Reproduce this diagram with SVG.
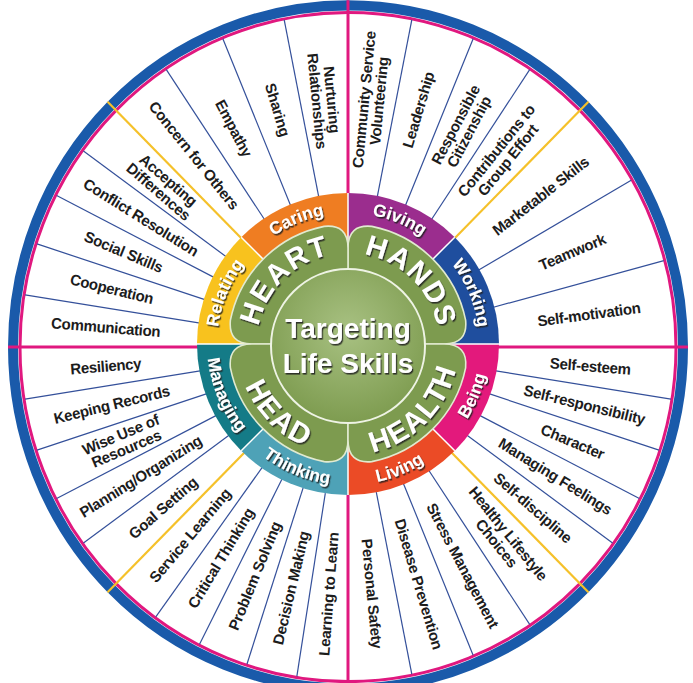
<svg xmlns="http://www.w3.org/2000/svg" width="693" height="683" viewBox="0 0 693 683">
<defs>
<style>
.sk{font-family:"Liberation Sans",Arial,sans-serif;font-weight:bold;font-size:15px;letter-spacing:-0.3px;fill:#1c1c1c;text-anchor:middle}
.cat{font-family:"Liberation Sans",Arial,sans-serif;font-weight:bold;font-size:17.5px;fill:#fff;filter:url(#sh)}
.big{font-family:"Liberation Sans",Arial,sans-serif;font-weight:bold;font-size:29px;letter-spacing:1.5px;fill:#fff;filter:url(#sh)}
.ctr{font-family:"Liberation Sans",Arial,sans-serif;font-weight:bold;font-size:28px;fill:#fff;text-anchor:middle;filter:url(#sh)}
.bl{stroke:#34509A;stroke-width:1.2}
.yl{stroke:#F5C12A;stroke-width:2.2}
.pk{stroke:#E0187F;stroke-width:3}
.sep{stroke:#fff;stroke-width:1.5}
.petal{fill:#7D9B4F;stroke:#E1EAD0;stroke-width:1.6}
</style>
<filter id="sh" x="-20%" y="-30%" width="140%" height="160%">
<feDropShadow dx="1.2" dy="1.6" stdDeviation="0.7" flood-color="#1a1a1a" flood-opacity="0.85"/>
</filter>
<radialGradient id="cg" cx="50%" cy="40%" r="60%">
<stop offset="0" stop-color="#A8C182"/>
<stop offset="1" stop-color="#7E9C50"/>
</radialGradient>
<path id="petal" d="M0 0 L0 -96 Q0 -120 23.84 -117.61 A120 120 0 0 1 117.61 -23.84 Q120 0 96 0 Z"/>
<path id="pCaring" d="M-92.63 -92.63 A131 131 0 0 1 0 -131"/>
<path id="pRelating" d="M-131 0 A131 131 0 0 1 -92.63 -92.63"/>
<path id="pGiving" d="M0 -131 A131 131 0 0 1 92.63 -92.63"/>
<path id="pWorking" d="M92.63 -92.63 A131 131 0 0 1 131 0"/>
<path id="pManaging" d="M-141 0 A141 141 0 0 0 -99.7 99.7"/>
<path id="pThinking" d="M-99.7 99.7 A141 141 0 0 0 0 141"/>
<path id="pLiving" d="M0 141 A141 141 0 0 0 99.7 99.7"/>
<path id="pBeing" d="M99.7 99.7 A141 141 0 0 0 141 0"/>
<path id="pHeart" d="M-91 0 A91 91 0 0 1 0 -91"/>
<path id="pHands" d="M0 -91 A91 91 0 0 1 91 0"/>
<path id="pHead" d="M-111 0 A111 111 0 0 0 0 111"/>
<path id="pHealth" d="M0 111 A111 111 0 0 0 111 0"/>
</defs>
<rect width="693" height="683" fill="#fff"/>

<g id="outer-ring" transform="translate(348,347) scale(1,1.02)">
<circle r="328" fill="none" stroke="#E0187F" stroke-width="3"/>
<circle r="335" fill="none" stroke="#1A5AAA" stroke-width="10"/>
</g>

<g id="connectors" transform="translate(348,347) scale(1,1.02)">
<g class="bl">
<line x1="145" y1="0" x2="327" y2="0" transform="rotate(-101.25)"/>
<line x1="145" y1="0" x2="327" y2="0" transform="rotate(-112.5)"/>
<line x1="145" y1="0" x2="327" y2="0" transform="rotate(-123.75)"/>
<line x1="145" y1="0" x2="327" y2="0" transform="rotate(-144)"/>
<line x1="145" y1="0" x2="327" y2="0" transform="rotate(-153)"/>
<line x1="145" y1="0" x2="327" y2="0" transform="rotate(-162)"/>
<line x1="145" y1="0" x2="327" y2="0" transform="rotate(-171)"/>
<line x1="145" y1="0" x2="327" y2="0" transform="rotate(-189)"/>
<line x1="145" y1="0" x2="327" y2="0" transform="rotate(-198)"/>
<line x1="145" y1="0" x2="327" y2="0" transform="rotate(-207)"/>
<line x1="145" y1="0" x2="327" y2="0" transform="rotate(-216)"/>
<line x1="145" y1="0" x2="327" y2="0" transform="rotate(-234)"/>
<line x1="145" y1="0" x2="327" y2="0" transform="rotate(-243)"/>
<line x1="145" y1="0" x2="327" y2="0" transform="rotate(-252)"/>
<line x1="145" y1="0" x2="327" y2="0" transform="rotate(-261)"/>
<line x1="145" y1="0" x2="327" y2="0" transform="rotate(-281.25)"/>
<line x1="145" y1="0" x2="327" y2="0" transform="rotate(-292.5)"/>
<line x1="145" y1="0" x2="327" y2="0" transform="rotate(-303.75)"/>
<line x1="145" y1="0" x2="327" y2="0" transform="rotate(-324)"/>
<line x1="145" y1="0" x2="327" y2="0" transform="rotate(-333)"/>
<line x1="145" y1="0" x2="327" y2="0" transform="rotate(-342)"/>
<line x1="145" y1="0" x2="327" y2="0" transform="rotate(-351)"/>
<line x1="145" y1="0" x2="327" y2="0" transform="rotate(-15)"/>
<line x1="145" y1="0" x2="327" y2="0" transform="rotate(-30)"/>
<line x1="145" y1="0" x2="327" y2="0" transform="rotate(-56.25)"/>
<line x1="145" y1="0" x2="327" y2="0" transform="rotate(-67.5)"/>
<line x1="145" y1="0" x2="327" y2="0" transform="rotate(-78.75)"/>
</g>
<g class="yl">
<line x1="145" y1="0" x2="340" y2="0" transform="rotate(-45)"/>
<line x1="145" y1="0" x2="340" y2="0" transform="rotate(-135)"/>
<line x1="145" y1="0" x2="340" y2="0" transform="rotate(-225)"/>
<line x1="145" y1="0" x2="340" y2="0" transform="rotate(-315)"/>
</g>
<g class="pk">
<line x1="145" y1="0" x2="340" y2="0"/>
<line x1="145" y1="0" x2="340" y2="0" transform="rotate(-90)"/>
<line x1="145" y1="0" x2="340" y2="0" transform="rotate(180)"/>
<line x1="145" y1="0" x2="340" y2="0" transform="rotate(90)"/>
</g>
</g>

<g id="skills" transform="translate(348,347) scale(1,1.02)">
<g id="s-nurturing" transform="rotate(84.4) translate(-243,0)"><text class="sk"><tspan x="0" y="-2.5">Nurturing</tspan><tspan x="0" y="12.5">Relationships</tspan></text></g>
<g id="s-sharing" transform="rotate(73.1) translate(-243,0)"><text class="sk" y="5">Sharing</text></g>
<g id="s-empathy" transform="rotate(61.9) translate(-243,0)"><text class="sk" y="5">Empathy</text></g>
<g id="s-concern" transform="rotate(50.6) translate(-243,0)"><text class="sk" y="5">Concern for Others</text></g>
<g id="s-accepting" transform="rotate(40.5) translate(-243,0)"><text class="sk"><tspan x="0" y="-2.5">Accepting</tspan><tspan x="0" y="12.5">Differences</tspan></text></g>
<g id="s-conflict" transform="rotate(31.5) translate(-243,0)"><text class="sk" y="5">Conflict Resolution</text></g>
<g id="s-social" transform="rotate(22.5) translate(-243,0)"><text class="sk" y="5">Social Skills</text></g>
<g id="s-cooperation" transform="rotate(13.5) translate(-243,0)"><text class="sk" y="5">Cooperation</text></g>
<g id="s-communication" transform="rotate(4.5) translate(-243,0)"><text class="sk" y="5">Communication</text></g>
<g id="s-resiliency" transform="rotate(-4.5) translate(-243,0)"><text class="sk" y="5">Resiliency</text></g>
<g id="s-records" transform="rotate(-13.5) translate(-243,0)"><text class="sk" y="5">Keeping Records</text></g>
<g id="s-wise" transform="rotate(-22.5) translate(-243,0)"><text class="sk"><tspan x="0" y="-2.5">Wise Use of</tspan><tspan x="0" y="12.5">Resources</tspan></text></g>
<g id="s-planning" transform="rotate(-31.5) translate(-243,0)"><text class="sk" y="5">Planning/Organizing</text></g>
<g id="s-goal" transform="rotate(-40.5) translate(-243,0)"><text class="sk" y="5">Goal Setting</text></g>
<g id="s-service" transform="rotate(-49.5) translate(-243,0)"><text class="sk" y="5">Service Learning</text></g>
<g id="s-critical" transform="rotate(-58.5) translate(-243,0)"><text class="sk" y="5">Critical Thinking</text></g>
<g id="s-problem" transform="rotate(-67.5) translate(-243,0)"><text class="sk" y="5">Problem Solving</text></g>
<g id="s-decision" transform="rotate(-76.5) translate(-243,0)"><text class="sk" y="5">Decision Making</text></g>
<g id="s-learning" transform="rotate(-85.5) translate(-243,0)"><text class="sk" y="5">Learning to Learn</text></g>
<g id="s-safety" transform="rotate(84.4) translate(243,0)"><text class="sk" y="5">Personal Safety</text></g>
<g id="s-disease" transform="rotate(73.1) translate(243,0)"><text class="sk" y="5">Disease Prevention</text></g>
<g id="s-stress" transform="rotate(61.9) translate(243,0)"><text class="sk" y="5">Stress Management</text></g>
<g id="s-healthy" transform="rotate(50.6) translate(243,0)"><text class="sk"><tspan x="0" y="-2.5">Healthy Lifestyle</tspan><tspan x="0" y="12.5">Choices</tspan></text></g>
<g id="s-selfdiscipline" transform="rotate(40.5) translate(243,0)"><text class="sk" y="5">Self-discipline</text></g>
<g id="s-feelings" transform="rotate(31.5) translate(243,0)"><text class="sk" y="5">Managing Feelings</text></g>
<g id="s-character" transform="rotate(22.5) translate(243,0)"><text class="sk" y="5">Character</text></g>
<g id="s-selfresp" transform="rotate(13.5) translate(243,0)"><text class="sk" y="5">Self-responsibility</text></g>
<g id="s-selfesteem" transform="rotate(4.5) translate(243,0)"><text class="sk" y="5">Self-esteem</text></g>
<g id="s-selfmotivation" transform="rotate(-7.5) translate(243,0)"><text class="sk" y="5">Self-motivation</text></g>
<g id="s-teamwork" transform="rotate(-22.5) translate(243,0)"><text class="sk" y="5">Teamwork</text></g>
<g id="s-marketable" transform="rotate(-37.5) translate(243,0)"><text class="sk" y="5">Marketable Skills</text></g>
<g id="s-contributions" transform="rotate(-50.6) translate(243,0)"><text class="sk"><tspan x="0" y="-2.5">Contributions to</tspan><tspan x="0" y="12.5">Group Effort</tspan></text></g>
<g id="s-citizenship" transform="rotate(-61.9) translate(243,0)"><text class="sk"><tspan x="0" y="-2.5">Responsible</tspan><tspan x="0" y="12.5">Citizenship</tspan></text></g>
<g id="s-leadership" transform="rotate(-73.1) translate(243,0)"><text class="sk" y="5">Leadership</text></g>
<g id="s-community" transform="rotate(-84.4) translate(243,0)"><text class="sk"><tspan x="0" y="-2.5">Community Service</tspan><tspan x="0" y="12.5">Volunteering</tspan></text></g>
</g>

<g id="hub" transform="translate(348,344)">
<g id="cat-working"><path d="M0 0 L151 0 A151 151 0 0 0 106.77 -106.77 Z" fill="#1F4E9E"/><text class="cat"><textPath href="#pWorking" startOffset="50%" text-anchor="middle">Working</textPath></text></g>
<g id="cat-giving"><path d="M0 0 L106.77 -106.77 A151 151 0 0 0 0 -151 Z" fill="#9B2D8E"/><text class="cat"><textPath href="#pGiving" startOffset="50%" text-anchor="middle">Giving</textPath></text></g>
<g id="cat-caring"><path d="M0 0 L0 -151 A151 151 0 0 0 -106.77 -106.77 Z" fill="#EF7D22"/><text class="cat"><textPath href="#pCaring" startOffset="50%" text-anchor="middle">Caring</textPath></text></g>
<g id="cat-relating"><path d="M0 0 L-106.77 -106.77 A151 151 0 0 0 -151 0 Z" fill="#F8C21E"/><text class="cat"><textPath href="#pRelating" startOffset="50%" text-anchor="middle">Relating</textPath></text></g>
<g id="cat-managing"><path d="M0 0 L-151 0 A151 151 0 0 0 -106.77 106.77 Z" fill="#147B87"/><text class="cat"><textPath href="#pManaging" startOffset="50%" text-anchor="middle">Managing</textPath></text></g>
<g id="cat-thinking"><path d="M0 0 L-106.77 106.77 A151 151 0 0 0 0 151 Z" fill="#4EA2B7"/><text class="cat"><textPath href="#pThinking" startOffset="50%" text-anchor="middle">Thinking</textPath></text></g>
<g id="cat-living"><path d="M0 0 L0 151 A151 151 0 0 0 106.77 106.77 Z" fill="#EB4B26"/><text class="cat"><textPath href="#pLiving" startOffset="50%" text-anchor="middle">Living</textPath></text></g>
<g id="cat-being"><path d="M0 0 L106.77 106.77 A151 151 0 0 0 151 0 Z" fill="#E3197C"/><text class="cat"><textPath href="#pBeing" startOffset="50%" text-anchor="middle">Being</textPath></text></g>
<g class="sep">
<line x1="100" y1="0" x2="151" y2="0"/>
<line x1="100" y1="0" x2="151" y2="0" transform="rotate(-45)"/>
<line x1="100" y1="0" x2="151" y2="0" transform="rotate(-90)"/>
<line x1="100" y1="0" x2="151" y2="0" transform="rotate(-135)"/>
<line x1="100" y1="0" x2="151" y2="0" transform="rotate(180)"/>
<line x1="100" y1="0" x2="151" y2="0" transform="rotate(135)"/>
<line x1="100" y1="0" x2="151" y2="0" transform="rotate(90)"/>
<line x1="100" y1="0" x2="151" y2="0" transform="rotate(45)"/>
</g>
<g id="hands"><use href="#petal" class="petal"/><text class="big"><textPath href="#pHands" startOffset="50%" text-anchor="middle">HANDS</textPath></text></g>
<g id="heart"><use href="#petal" class="petal" transform="rotate(-90)"/><text class="big"><textPath href="#pHeart" startOffset="50%" text-anchor="middle">HEART</textPath></text></g>
<g id="head"><use href="#petal" class="petal" transform="rotate(180)"/><text class="big"><textPath href="#pHead" startOffset="50%" text-anchor="middle">HEAD</textPath></text></g>
<g id="health"><use href="#petal" class="petal" transform="rotate(90)"/><text class="big"><textPath href="#pHealth" startOffset="50%" text-anchor="middle">HEALTH</textPath></text></g>
<g id="center">
<circle cx="0" cy="2" r="77" fill="url(#cg)" stroke="#EEF3E4" stroke-width="2"/>
<text class="ctr" x="0" y="-6">Targeting</text>
<text class="ctr" x="0" y="29">Life Skills</text>
</g>
</g>
</svg>
